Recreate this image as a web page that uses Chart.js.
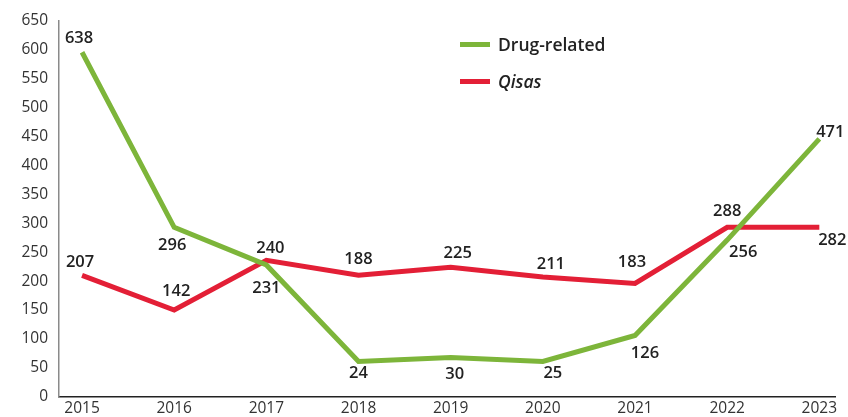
<!DOCTYPE html>
<html>
<head>
<meta charset="utf-8">
<script src="https://cdn.jsdelivr.net/npm/chart.js@4"></script>
<style>
  html, body { margin: 0; padding: 0; background: #fff; }
  #wrap { position: relative; width: 848px; height: 417px; }
  canvas { display: block; }
  .leg { position: absolute; left: 460px; font-family: "Open Sans", "Noto Sans", sans-serif; font-size: 17.5px; font-weight: 600; color: #222; display: flex; align-items: center; }
  .leg span.sw { display: inline-block; width: 30px; height: 5px; margin-right: 8px; }
</style>
</head>
<body>
<div id="wrap">
  <canvas id="c" width="848" height="417"></canvas>
  <div class="leg" style="top:32px;"><span class="sw" style="background:#7db53a"></span><span>Drug-related</span></div>
  <div class="leg" style="top:69px;"><span class="sw" style="background:#e31f36"></span><span style="font-style:italic">Qisas</span></div>
</div>
<script>
// ---- data ----
const years = [2015, 2016, 2017, 2018, 2019, 2020, 2021, 2022, 2023];
// plotted line positions as drawn in the picture
const drugValues  = [596, 293, 228, 61, 68, 61, 106, 271, 446];
const qisasValues = [210, 150, 236, 210, 224, 207, 196, 293, 293];
// numbers printed next to the points
const drugLabels  = [638, 296, 231, 24, 30, 25, 126, 256, 471];
const qisasLabels = [207, 142, 240, 188, 225, 211, 183, 288, 282];
const yTicks = [0, 50, 100, 150, 200, 250, 300, 350, 400, 450, 500, 550, 600, 650];

// ---- label placement (pixel offsets from each point) ----
const drugOffsets  = [[-3,-14],[-2,18],[0,23],[0,12],[4,17],[10,12],[10,18],[16,12],[11,-7]];
const qisasOffsets = [[-2,-13],[2,-19],[4,-12],[0,-16],[7,-14],[8,-13],[-3,-21],[0,-16],[13,13]];

const FONT = '"Open Sans", "Noto Sans", sans-serif';

const pointLabels = {
  id: 'pointLabels',
  afterDatasetsDraw(chart) {
    const ctx = chart.ctx;
    ctx.save();
    ctx.font = '600 16.5px ' + FONT;
    ctx.fillStyle = '#222';
    ctx.textAlign = 'center';
    ctx.textBaseline = 'middle';
    chart.data.datasets.forEach((ds, i) => {
      const meta = chart.getDatasetMeta(i);
      meta.data.forEach((pt, j) => {
        const off = ds.labelOffsets[j];
        ctx.fillText(String(ds.printed[j]), pt.x + off[0], pt.y + off[1]);
      });
    });
    ctx.restore();
  }
};

new Chart(document.getElementById('c'), {
  type: 'line',
  data: {
    datasets: [
      {
        label: 'Drug-related',
        data: years.map((y, i) => ({ x: y, y: drugValues[i] })),
        printed: drugLabels,
        labelOffsets: drugOffsets,
        borderColor: '#7db53a',
        borderWidth: 5,
        pointRadius: 0,
        tension: 0,
        borderJoinStyle: 'miter',
        borderCapStyle: 'butt'
      },
      {
        label: 'Qisas',
        data: years.map((y, i) => ({ x: y, y: qisasValues[i] })),
        printed: qisasLabels,
        labelOffsets: qisasOffsets,
        borderColor: '#e31f36',
        borderWidth: 5,
        pointRadius: 0,
        tension: 0,
        borderJoinStyle: 'miter',
        borderCapStyle: 'butt'
      }
    ]
  },
  options: {
    responsive: false,
    animation: false,
    events: [],
    layout: { padding: { top: 21, right: 13, left: 0, bottom: 0 } },
    plugins: { legend: { display: false }, tooltip: { enabled: false } },
    scales: {
      x: {
        type: 'linear',
        min: 2014.75,
        max: 2023.17,
        afterBuildTicks: (axis) => { axis.ticks = years.map(v => ({ value: v })); },
        afterFit: (axis) => { axis.height = 20; },
        grid: { display: false, drawTicks: false },
        border: { display: true, color: '#222', width: 1.5 },
        ticks: {
          padding: 3,
          maxRotation: 0,
          autoSkip: false,
          color: '#333',
          font: { family: FONT, size: 15.5, weight: '400' },
          callback: (v) => String(v)
        }
      },
      y: {
        min: 0,
        max: 650,
        afterBuildTicks: (axis) => { axis.ticks = yTicks.map(v => ({ value: v })); },
        afterFit: (axis) => { axis.width = 59; },
        grid: { display: false, drawTicks: false },
        border: { display: true, color: '#8a8a8a', width: 1.5 },
        ticks: {
          padding: 11,
          color: '#333',
          font: { family: FONT, size: 15.5, weight: '400' }
        }
      }
    }
  },
  plugins: [pointLabels]
});
</script>
</body>
</html>
